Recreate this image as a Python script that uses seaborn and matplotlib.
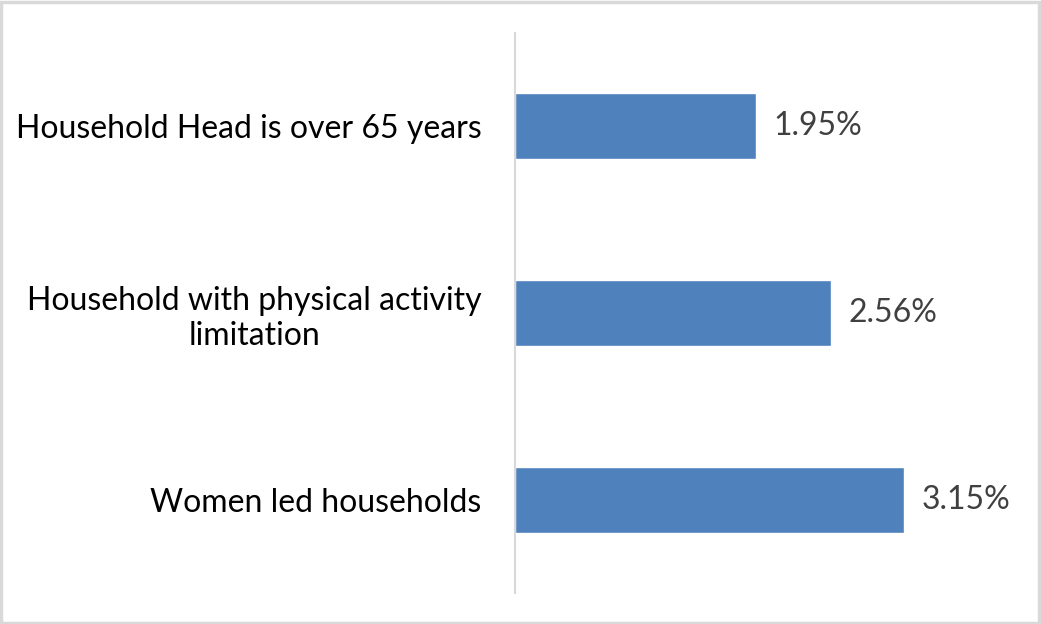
import matplotlib
matplotlib.use("Agg")
import matplotlib.pyplot as plt
import seaborn as sns
import pandas as pd
from matplotlib.patches import Rectangle

categories = ["Household Head is over 65 years",
              "Household with physical activity\nlimitation",
              "Women led households"]
values = [1.95, 2.56, 3.15]
value_labels = ["1.95%", "2.56%", "3.15%"]

sns.set_theme(style="white")
plt.rcParams['font.family'] = ['Lato', 'DejaVu Sans']

df = pd.DataFrame({"cat": categories, "val": values})

fig = plt.figure(figsize=(10.41, 6.24), dpi=100)
ax = fig.add_axes([515/1041, 1-593/624, (947-515)/1041, 560/624])
sns.barplot(data=df, x="val", y="cat", orient="h", color="#4F81BD",
            saturation=1, width=0.354, ax=ax)
ax.set_xlim(0, 3.5)
ax.set_ylim(2.5, -0.5)
ax.set_xlabel("")
ax.set_ylabel("")
ax.set_xticks([])
for s in ["top", "right", "bottom"]:
    ax.spines[s].set_visible(False)
ax.spines["left"].set_color("#D9D9D9")
ax.spines["left"].set_linewidth(1.5)
ax.tick_params(axis="y", length=0, pad=24, labelsize=23, colors="#000000")
for lab in ax.get_yticklabels():
    lab.set_horizontalalignment("right")
    lab.set_multialignment("center")
for i, (v, t) in enumerate(zip(values, value_labels)):
    ax.annotate(t, (v, i), xytext=(18, 0), textcoords="offset pixels",
                va="center", ha="left", fontsize=23, color="#404040")

fig.patches.append(Rectangle((0.001, 0.001), 0.997, 0.996, transform=fig.transFigure,
                             fill=False, edgecolor="#D9D9D9", linewidth=2.5))
fig.savefig("out.png", dpi=100)
